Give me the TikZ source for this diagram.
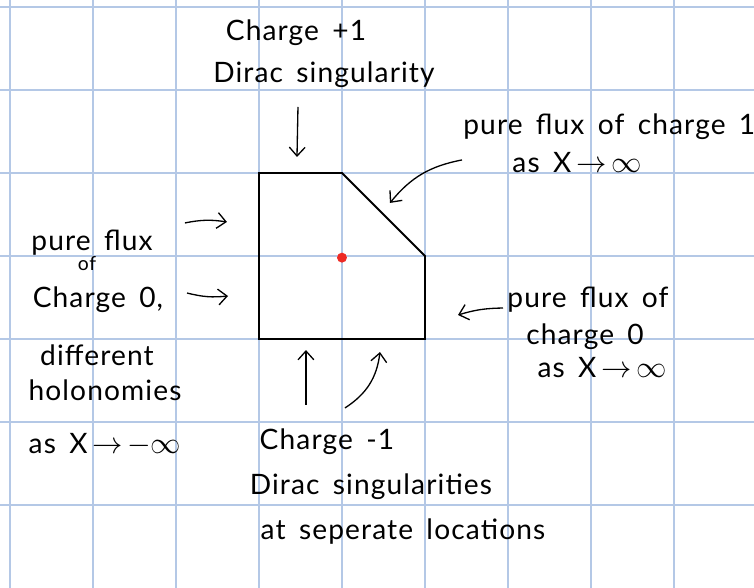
\documentclass[tikz,border=0pt]{standalone}
\usepackage{fontspec}
\setmainfont{Lato}[LetterSpace=4,WordSpace=1.6]
\usepackage{tikz}
\usetikzlibrary{arrows.meta}
\definecolor{gridc}{HTML}{B4C8E6}
\definecolor{dotc}{HTML}{EE2A24}

\begin{document}
\begin{tikzpicture}[x=1.66cm,y=-1.66cm,
  lbl/.style={inner sep=0pt,font=\fontsize{16}{18}\selectfont},
  pen/.style={line width=0.75pt,-{Straight Barb[length=5pt,width=9pt]}}]
\useasboundingbox[fill=white] (-0.12,-0.084) rectangle (8.964,7);
% paper grid
\foreach \i in {0,...,8} \draw[gridc,line width=0.8pt] (\i,-0.084) -- (\i,7);
\foreach \j in {0,...,6} \draw[gridc,line width=0.8pt] (-0.12,\j) -- (8.964,\j);
% the cell
\draw[line width=1.1pt] (3,2) -- (4,2) -- (5,3) -- (5,4) -- (3,4) -- cycle;
\fill[dotc] (4,3.02) circle (0.06);
% top
\node[lbl] (plusA) at (3.446,0.313) {Charge +1};
\node[lbl] (plusB) at (3.783,0.819) {Dirac singularity};
\coordinate (topS) at (3.47,1.205);
\coordinate (topE) at (3.458,1.807);
\draw[pen] (topS) -- (topE);
% upper right
\node[lbl] (oneA) at (7.22,1.446) {pure flux of charge 1};
\node[lbl] (oneB) at (6.831,1.880) {as X\,$\to$\,$\infty$};
\coordinate (diagS) at (5.446,1.843);
\coordinate (diagE) at (4.578,2.361);
\draw[pen] (diagS) to[bend right=20] (diagE);
% left
\node[lbl] (lftA) at (0.988,2.843) {pure flux};
\node[lbl] (lftB) at (0.928,3.096) {\fontsize{11}{12}\selectfont of};
\node[lbl] (lftC) at (1.060,3.530) {Charge 0,};
\node[lbl] (lftD) at (1.048,4.193) {different};
\node[lbl] (lftE) at (1.145,4.614) {holonomies};
\node[lbl] (lftF) at (1.145,5.277) {as X\,$\to$\,$-\infty$};
\coordinate (lftS1) at (2.108,2.602);
\coordinate (lftE1) at (2.614,2.590);
\coordinate (lftS2) at (2.133,3.446);
\coordinate (lftE2) at (2.627,3.482);
\draw[pen] (lftS1) to[bend left=10] (lftE1);
\draw[pen] (lftS2) to[bend right=10] (lftE2);
% right
\node[lbl] (rgtA) at (6.964,3.530) {pure flux of};
\node[lbl] (rgtB) at (6.928,3.976) {charge 0};
\node[lbl] (rgtC) at (7.133,4.349) {as X\,$\to$\,$\infty$};
\coordinate (rgtS) at (5.94,3.627);
\coordinate (rgtE) at (5.398,3.711);
\draw[pen] (rgtS) to[bend right=8] (rgtE);
% bottom
\node[lbl] (minA) at (3.819,5.241) {Charge -1};
\node[lbl] (minB) at (4.349,5.783) {Dirac singularities};
\node[lbl] (minC) at (4.735,6.325) {at seperate locations};
\coordinate (botS1) at (3.566,4.795);
\coordinate (botE1) at (3.566,4.133);
\coordinate (botS2) at (4.036,4.831);
\coordinate (botE2) at (4.458,4.157);
\draw[pen] (botS1) -- (botE1);
\draw[pen] (botS2) to[bend right=25] (botE2);
\end{tikzpicture}
\end{document}
